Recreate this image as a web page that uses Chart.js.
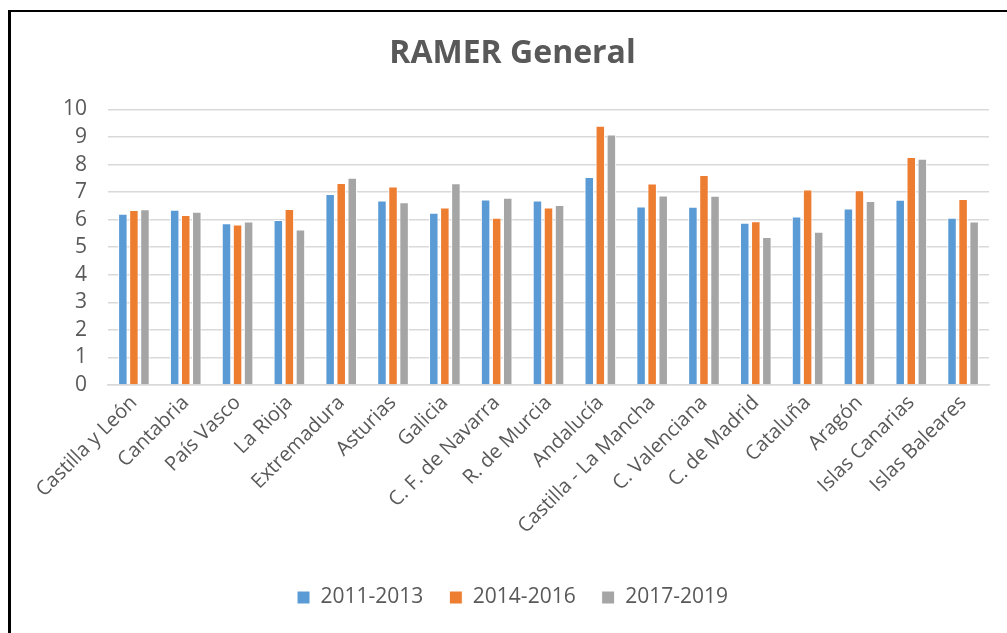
<!DOCTYPE html>
<html>
<head>
<meta charset="utf-8">
<script src="https://cdn.jsdelivr.net/npm/chart.js@4"></script>
<style>
    body { margin: 0; background: #fff; overflow: hidden; }
    #wrap { position: relative; width: 1007px; height: 633px; }
    #frame {
        position: absolute; left: 8px; top: 10px; width: 1100px; height: 700px;
        border-left: 3px solid #000; border-top: 2px solid #000; pointer-events: none;
    }
</style>
</head>
<body>
<div id="wrap">
    <canvas id="chart" width="1007" height="633"></canvas>
    <div id="frame"></div>
</div>
<script>
// Regions and values
const regions = ['Castilla y León', 'Cantabria', 'País Vasco', 'La Rioja', 'Extremadura', 'Asturias',
    'Galicia', 'C. F. de Navarra', 'R. de Murcia', 'Andalucía', 'Castilla - La Mancha',
    'C. Valenciana', 'C. de Madrid', 'Cataluña', 'Aragón', 'Islas Canarias', 'Islas Baleares'];
const periods = ['2011-2013', '2014-2016', '2017-2019'];
const values2011 = [6.21, 6.36, 5.87, 5.99, 6.93, 6.69, 6.25, 6.73, 6.69, 7.55, 6.48, 6.47, 5.89, 6.11, 6.40, 6.72, 6.07];
const values2014 = [6.35, 6.17, 5.82, 6.39, 7.33, 7.20, 6.44, 6.07, 6.44, 9.41, 7.31, 7.62, 5.94, 7.09, 7.07, 8.27, 6.75];
const values2017 = [6.38, 6.29, 5.93, 5.64, 7.52, 6.63, 7.32, 6.79, 6.53, 9.09, 6.88, 6.87, 5.37, 5.56, 6.68, 8.21, 5.93];
const colors = ['#5B9BD5', '#ED7D31', '#A5A5A5'];

const textColor = '#595959';
const font = "'Open Sans', sans-serif";

const ctx = document.getElementById('chart').getContext('2d');
new Chart(ctx, {
    type: 'bar',
    data: {
        labels: regions,
        datasets: [values2011, values2014, values2017].map((vals, i) => ({
            label: periods[i],
            data: vals,
            backgroundColor: colors[i],
            borderColor: '#ffffff',
            borderWidth: 1,
            categoryPercentage: 0.64,
            barPercentage: 0.86
        }))
    },
    options: {
        responsive: false,
        animation: false,
        layout: { padding: { left: 36, right: 18, top: 0, bottom: 15 } },
        plugins: {
            title: {
                display: true,
                text: 'RAMER General',
                color: textColor,
                font: { family: font, size: 32, weight: 'bold' },
                padding: { top: 35, bottom: 36 }
            },
            legend: {
                position: 'bottom',
                labels: {
                    color: textColor,
                    font: { family: font, size: 21 },
                    boxWidth: 13,
                    boxHeight: 13,
                    padding: 26
                }
            },
            tooltip: { enabled: false }
        },
        scales: {
            x: {
                grid: { display: false, drawTicks: false },
                border: { color: '#D9D9D9', width: 1.5 },
                ticks: {
                    color: textColor,
                    font: { family: font, size: 20 },
                    minRotation: 45,
                    maxRotation: 45,
                    padding: 6,
                    autoSkip: false
                },
                afterFit: (scale) => { scale.height = 176; }
            },
            y: {
                min: 0,
                max: 10,
                grid: { color: '#D9D9D9', lineWidth: 1.5, drawTicks: false },
                border: { display: false },
                ticks: {
                    stepSize: 1,
                    autoSkip: false,
                    color: textColor,
                    font: { family: font, size: 21 },
                    padding: 21
                },
                afterFit: (scale) => { scale.width = 72; }
            }
        }
    }
});
</script>
</body>
</html>
